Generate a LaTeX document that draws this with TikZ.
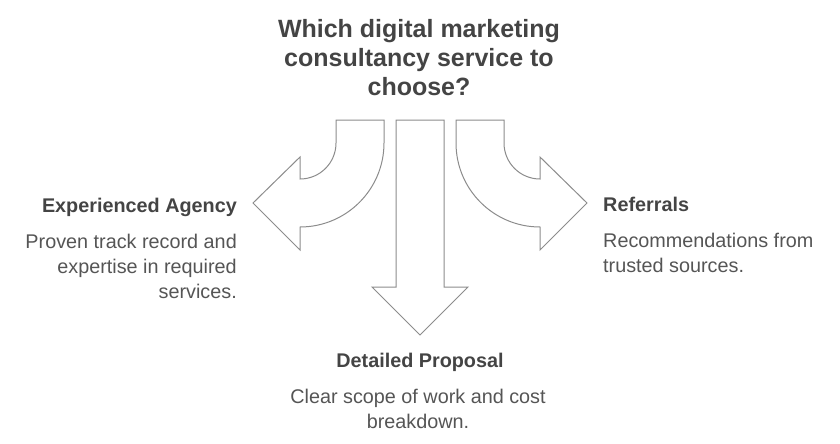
\documentclass[tikz,border=0pt]{standalone}
\usepackage{fontspec}
\setmainfont{Liberation Sans}
\definecolor{inkdark}{HTML}{444444}
\definecolor{inkbody}{HTML}{555555}
\definecolor{outline}{HTML}{8C8C8C}
\begin{document}
\begin{tikzpicture}[
            x=1pt, y=-1pt,
            arrowshape/.style={draw=outline, line width=1pt, fill=white, line join=miter},
            title/.style={inkdark, font=\bfseries\fontsize{25}{28.7}\selectfont, align=center, inner sep=0pt, anchor=base},
            head/.style={inkdark, font=\bfseries\fontsize{19.8}{25}\selectfont, inner sep=0pt, anchor=base},
            body/.style={inkbody, font=\fontsize{19.8}{25}\selectfont, inner sep=0pt, anchor=base},
        ]
        \useasboundingbox (0, 0) rectangle (840, 444);

        % question (base = last line)
        \node[title] (question) at (419, 95) {Which digital marketing\\consultancy service to\\choose?};

        % left arrow
        \draw[arrowshape] (336, 120) -- (336, 143) arc[start angle=0, end angle=90, radius=36]
            -- (300, 157) -- (253, 203) -- (300, 250) -- (300, 227)
            arc[start angle=90, end angle=0, radius=84] -- (384, 120) -- cycle;

        % middle arrow
        \draw[arrowshape] (396, 120) -- (396, 287) -- (372, 287) -- (420, 335)
            -- (468, 287) -- (444, 287) -- (444, 120) -- cycle;

        % right arrow
        \draw[arrowshape] (504, 120) -- (504, 143) arc[start angle=180, end angle=90, radius=36]
            -- (540, 157) -- (587, 203) -- (540, 250) -- (540, 227)
            arc[start angle=90, end angle=180, radius=84] -- (456, 120) -- cycle;

        % labels
        \node[head, anchor=base east] (agency) at (237, 212) {Experienced Agency};
        \node[body, anchor=base east, align=right] (agencytext) at (237, 298) {Proven track record and\\expertise in required\\services.};

        \node[head, anchor=base west] (referrals) at (603, 211) {Referrals};
        \node[body, anchor=base west, align=left] (referralstext) at (603, 272) {Recommendations from\\trusted sources.};

        \node[head] (proposal) at (420, 367) {Detailed Proposal};
        \node[body, align=center] (proposaltext) at (418, 428) {Clear scope of work and cost\\breakdown.};
    \end{tikzpicture}
\end{document}
